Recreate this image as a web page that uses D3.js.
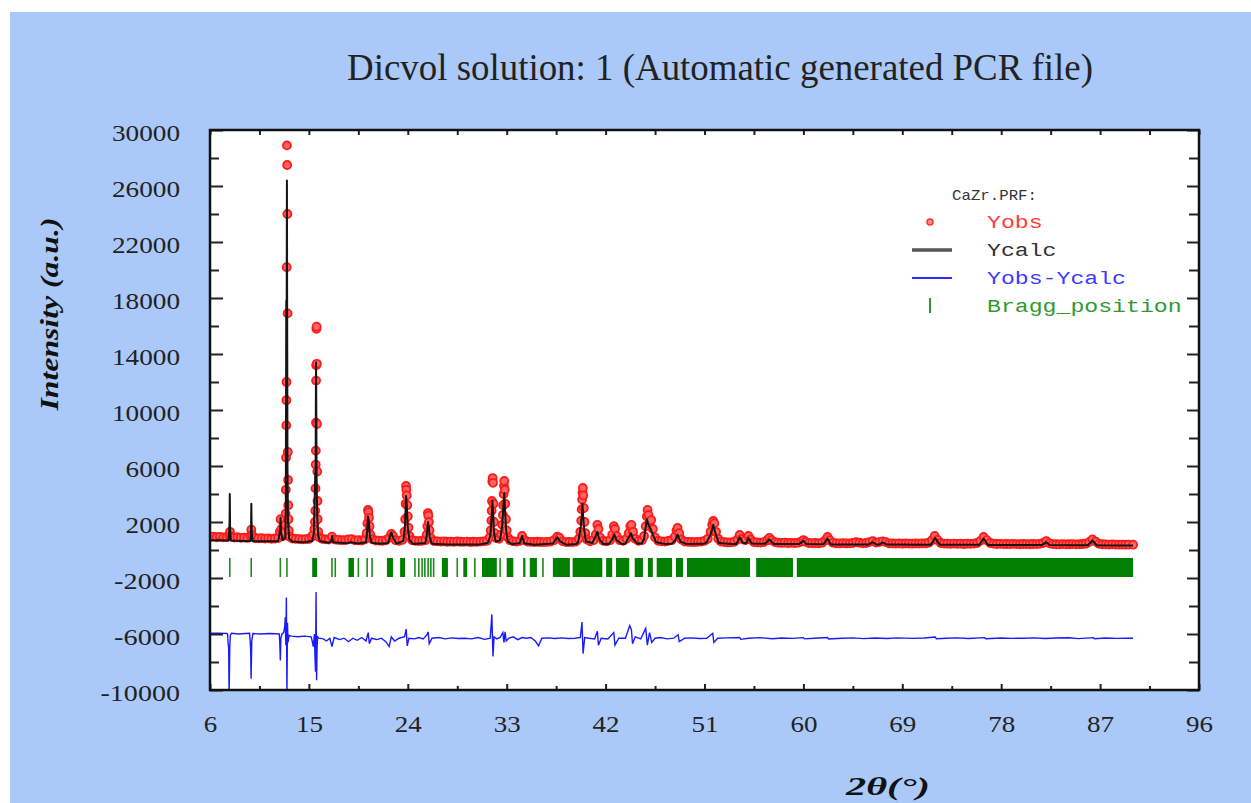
<!DOCTYPE html>
<html>
<head>
<meta charset="utf-8">
<title>Dicvol solution</title>
<script src="https://d3js.org/d3.v7.min.js"></script>
<style>
  html, body { margin: 0; padding: 0; background: #fff; }
  svg { display: block; }
  .tick-label { font-family: "Liberation Serif", "Times New Roman", serif; font-size: 24px; fill: #222; }
  .legend-text { font-family: "Liberation Mono", "Courier New", monospace; font-size: 19px; }
</style>
</head>
<body>
<svg id="chart" width="1251" height="803"></svg>
<script>
// ---- data ----
// observed points [2theta, intensity]
const yobs = [
  [6.0,930],[6.3,960],[6.6,910],[6.9,940],[7.2,900],[7.5,920],[7.75,1050],[7.82,1300],[7.9,980],[8.2,890],[8.5,910],[8.8,870],
  [9.1,890],[9.4,860],[9.68,1000],[9.76,1450],[9.84,1050],[10.1,850],[10.4,830],[10.7,845],[11.0,815],[11.3,830],[11.6,800],
  [11.9,820],[12.2,850],[12.35,1300],[12.42,2200],[12.5,1500],[12.65,1000],[12.8,1250],[12.86,1800],[12.88,2600],[12.9,4300],
  [12.92,6600],[12.94,8900],[12.95,10700],[12.96,12000],[12.98,20200],[13.0,28900],[13.02,27500],[13.04,24000],[13.06,16900],
  [13.08,7000],[13.1,5000],[13.12,3200],[13.14,2200],[13.17,1400],[13.25,950],[13.5,820],[13.8,800],[14.1,780],[14.4,760],
  [14.7,770],[15.0,790],[15.25,950],[15.4,1100],[15.5,1500],[15.55,2000],[15.58,2800],[15.6,4400],[15.62,6100],[15.63,7100],
  [15.64,9100],[15.65,12100],[15.66,13200],[15.68,15800],[15.7,15950],[15.72,13300],[15.74,9000],[15.76,5600],[15.78,3500],
  [15.8,2200],[15.85,1300],[15.95,900],[16.2,800],[16.5,760],[16.8,750],[17.1,950],[17.4,740],[17.7,720],[18.0,700],[18.3,710],
  [18.6,760],[18.9,780],[19.2,690],[19.5,700],[19.8,680],[20.1,760],[20.25,1200],[20.32,1900],[20.38,2860],[20.42,2700],
  [20.47,2300],[20.52,1700],[20.6,1100],[20.8,760],[21.1,680],[21.4,670],[21.7,660],[22.0,700],[22.3,880],[22.5,1150],
  [22.65,1000],[22.9,700],[23.2,660],[23.5,720],[23.7,1300],[23.76,2200],[23.8,3300],[23.84,4570],[23.87,4300],[23.9,3900],
  [23.95,3200],[24.0,2400],[24.06,1600],[24.15,1000],[24.4,700],[24.7,650],[25.0,640],[25.3,660],[25.6,700],[25.72,1100],
  [25.78,1700],[25.83,2640],[25.87,2450],[25.92,2000],[25.98,1400],[26.1,850],[26.4,640],[26.7,620],[27.0,600],[27.3,610],
  [27.6,590],[27.9,600],[28.2,580],[28.5,610],[28.8,590],[29.1,580],[29.4,600],[29.7,570],[30.0,590],[30.3,580],[30.6,600],
  [30.9,620],[31.2,650],[31.45,900],[31.55,1400],[31.6,2100],[31.63,2800],[31.66,3500],[31.69,4900],[31.72,5140],[31.76,4800],
  [31.8,3300],[31.85,2000],[31.92,1200],[32.05,850],[32.3,800],[32.5,1100],[32.6,1800],[32.65,2500],[32.68,3200],[32.72,4000],
  [32.75,4600],[32.78,4930],[32.82,4300],[32.87,3300],[32.93,2200],[33.0,1400],[33.1,900],[33.3,700],[33.6,620],[33.9,600],
  [34.2,650],[34.4,1000],[34.6,720],[34.9,600],[35.2,580],[35.5,570],[35.8,590],[36.1,570],[36.4,560],[36.7,580],[37.0,600],
  [37.3,700],[37.6,950],[37.8,880],[38.1,620],[38.4,560],[38.7,570],[39.0,560],[39.3,600],[39.55,800],[39.7,1300],[39.78,2100],
  [39.82,2900],[39.86,3600],[39.9,4100],[39.93,4430],[39.97,3900],[40.02,3000],[40.08,2000],[40.15,1200],[40.3,750],[40.6,620],
  [40.9,700],[41.1,1100],[41.25,1800],[41.35,1500],[41.5,900],[41.8,650],[42.1,620],[42.4,700],[42.6,1100],[42.75,1700],
  [42.85,1500],[43.0,1000],[43.3,700],[43.6,650],[43.9,800],[44.1,1200],[44.25,1700],[44.35,1790],[44.5,1300],[44.7,800],
  [45.0,650],[45.3,700],[45.5,1000],[45.65,1700],[45.75,2400],[45.82,2860],[45.9,2500],[46.0,1900],[46.15,2140],[46.3,1500],
  [46.5,900],[46.8,650],[47.1,620],[47.4,600],[47.7,650],[48.0,700],[48.3,950],[48.45,1400],[48.55,1570],[48.7,1200],[48.9,750],
  [49.2,600],[49.5,580],[49.8,570],[50.1,560],[50.4,580],[50.7,600],[51.0,650],[51.3,800],[51.55,1300],[51.7,1800],[51.8,2070],
  [51.9,1900],[52.05,1300],[52.25,800],[52.5,600],[52.8,560],[53.1,540],[53.4,550],[53.7,580],[54.0,750],[54.2,1070],[54.4,800],
  [54.7,700],[55.0,1000],[55.2,750],[55.5,560],[55.8,540],[56.1,530],[56.4,560],[56.7,700],[56.9,860],[57.1,700],[57.4,560],
  [57.7,520],[58.0,510],[58.3,520],[58.6,500],[58.9,510],[59.2,500],[59.5,520],[59.8,600],[60.0,710],[60.2,580],[60.5,500],
  [60.8,490],[61.1,500],[61.4,480],[61.7,520],[62.0,700],[62.2,930],[62.4,700],[62.7,520],[63.0,480],[63.3,470],[63.6,490],
  [63.9,470],[64.2,480],[64.5,500],[64.8,560],[65.1,520],[65.4,480],[65.7,500],[66.0,560],[66.3,640],[66.6,530],[66.9,560],
  [67.2,620],[67.5,560],[67.8,480],[68.1,470],[68.4,460],[68.7,470],[69.0,450],[69.3,470],[69.6,460],[69.9,450],[70.2,470],
  [70.5,460],[70.8,480],[71.1,470],[71.4,520],[71.7,700],[71.95,1000],[72.2,720],[72.5,500],[72.8,460],[73.1,450],[73.4,440],
  [73.7,460],[74.0,440],[74.3,450],[74.6,430],[74.9,450],[75.2,440],[75.5,460],[75.8,500],[76.1,650],[76.4,930],[76.7,700],
  [77.0,500],[77.3,450],[77.6,430],[77.9,440],[78.2,420],[78.5,430],[78.8,420],[79.1,440],[79.4,420],[79.7,410],[80.0,430],
  [80.3,420],[80.6,410],[80.9,430],[81.2,420],[81.5,440],[81.8,500],[82.1,640],[82.4,480],[82.7,420],[83.0,410],[83.3,400],
  [83.6,420],[83.9,400],[84.2,410],[84.5,420],[84.8,400],[85.1,410],[85.4,430],[85.7,450],[86.0,560],[86.3,760],[86.6,600],
  [86.9,440],[87.2,410],[87.5,400],[87.8,390],[88.1,400],[88.4,390],[88.7,380],[89.0,390],[89.3,380],[89.6,390],[90.0,380]
];

// calculated profile [2theta, intensity]
const ycalc = [
  [6.0,700],[7.0,690],[7.7,680],[7.78,2000],[7.8,4000],[7.83,1500],[7.9,670],[9.0,650],[9.7,640],[9.74,1800],[9.76,3300],
  [9.8,1200],[9.9,630],[11.0,620],[12.2,630],[12.38,1400],[12.42,2300],[12.46,1300],[12.6,700],[12.85,900],[12.9,3000],
  [12.94,17800],[12.96,12000],[12.98,17800],[13.0,26400],[13.02,17500],[13.05,6000],[13.1,2000],[13.2,800],[13.5,600],
  [14.5,560],[15.3,650],[15.45,1200],[15.55,4500],[15.58,5500],[15.6,4000],[15.62,8000],[15.65,13400],[15.68,9000],
  [15.7,5500],[15.75,2500],[15.85,1000],[16.0,650],[16.8,520],[17.05,650],[17.12,1000],[17.2,560],[18.5,480],[18.8,560],
  [19.5,470],[20.2,560],[20.3,1300],[20.38,2400],[20.45,2100],[20.55,1000],[20.7,520],[21.5,450],[22.2,500],[22.3,750],[22.5,1250],
  [22.7,800],[23.0,460],[23.6,650],[23.75,1800],[23.84,3860],[23.9,3300],[24.0,1600],[24.15,700],[24.5,430],[25.6,500],
  [25.75,1200],[25.84,2000],[25.9,1700],[26.0,900],[26.2,450],[27.5,400],[29.0,390],[30.5,400],[31.3,520],[31.5,1000],
  [31.62,2200],[31.7,3500],[31.76,2700],[31.85,1200],[32.0,600],[32.4,700],[32.6,1800],[32.72,3400],[32.78,4070],[32.85,2800],
  [32.95,1400],[33.1,600],[33.5,420],[34.2,500],[34.4,1000],[34.6,480],[35.5,380],[37.2,460],[37.6,900],[37.9,600],[38.4,380],
  [39.3,420],[39.5,550],[39.75,1700],[39.85,2600],[39.9,3300],[39.95,2500],[40.05,1500],[40.2,600],[40.8,500],[41.25,1300],
  [41.4,800],[41.8,420],[42.3,430],[42.6,750],[42.8,1100],[43.0,700],[43.5,420],[43.8,450],[44.1,900],[44.3,1200],[44.5,800],
  [44.9,450],[45.3,480],[45.5,800],[45.75,2200],[45.9,1800],[46.1,1500],[46.3,1100],[46.6,550],[47.5,420],[48.0,450],[48.3,650],
  [48.55,1100],[48.8,600],[49.4,420],[50.9,440],[51.2,550],[51.55,1100],[51.8,1800],[51.95,1300],[52.3,500],[53.5,420],
  [53.9,430],[54.2,900],[54.5,520],[54.8,480],[55.0,850],[55.3,460],[56.5,440],[56.9,750],[57.3,430],[59.6,420],[60.0,650],
  [60.3,420],[61.8,410],[62.2,800],[62.5,400],[65.9,390],[66.3,560],[66.6,400],[66.9,390],[67.2,540],[67.6,390],[71.6,380],
  [72.0,850],[72.4,380],[76.0,370],[76.4,820],[76.8,360],[81.7,350],[82.1,560],[82.4,350],[85.9,340],[86.3,680],[86.7,340],
  [90.0,320]
];

// difference curve Yobs-Ycalc, already offset as plotted [2theta, value]
const ydiff = [
  [6.0,-5950],[6.8,-5940],[7.55,-5960],[7.6,-6000],[7.65,-6700],[7.7,-7000],[7.74,-10400],[7.8,-6900],[7.85,-6100],
  [7.95,-5950],[8.6,-6000],[9.2,-5960],[9.6,-5950],[9.65,-6400],[9.7,-7100],[9.74,-9200],[9.8,-6500],[9.9,-5970],
  [10.6,-6000],[11.4,-5960],[12.0,-5980],[12.3,-6000],[12.35,-6600],[12.4,-7900],[12.45,-6300],[12.55,-6000],[12.7,-5900],
  [12.8,-5500],[12.85,-4800],[12.9,-6800],[12.95,-3400],[13.0,-10400],[13.05,-5200],[13.1,-6600],[13.2,-6100],[13.4,-6150],
  [14.0,-6200],[14.6,-6150],[15.2,-6200],[15.3,-6500],[15.4,-6900],[15.5,-6000],[15.55,-7500],[15.6,-8700],[15.65,-3000],
  [15.7,-9300],[15.75,-6800],[15.8,-6200],[15.9,-6300],[16.3,-6350],[16.6,-6500],[16.9,-6300],[17.1,-6900],[17.3,-6250],
  [17.8,-6400],[18.2,-6300],[18.6,-6550],[19.0,-6300],[19.4,-6450],[19.8,-6250],[20.2,-6500],[20.4,-5900],[20.5,-6700],
  [20.7,-6300],[21.2,-6400],[21.6,-6300],[22.0,-6550],[22.3,-6900],[22.5,-6200],[22.8,-6500],[23.2,-6300],[23.7,-6200],
  [23.85,-5650],[23.95,-6850],[24.1,-6300],[24.6,-6350],[25.0,-6250],[25.4,-6350],[25.75,-6050],[25.85,-5850],[25.95,-6700],
  [26.2,-6300],[26.8,-6250],[27.4,-6350],[28.0,-6280],[28.6,-6320],[29.2,-6300],[29.8,-6350],[30.4,-6250],[31.0,-6380],
  [31.5,-6300],[31.65,-4600],[31.75,-7600],[31.85,-6200],[32.1,-6350],[32.4,-6250],[32.65,-5900],[32.75,-6600],[32.85,-5850],
  [32.95,-6500],[33.2,-6300],[33.6,-6200],[34.0,-6400],[34.4,-6250],[34.8,-6300],[35.2,-6250],[35.6,-6500],[35.9,-6850],
  [36.2,-6300],[36.8,-6280],[37.4,-6320],[38.0,-6280],[38.6,-6320],[39.2,-6300],[39.7,-6250],[39.85,-5150],[39.95,-7400],
  [40.1,-6250],[40.5,-6300],[41.0,-6350],[41.25,-5800],[41.35,-6800],[41.6,-6300],[42.2,-6350],[42.75,-5900],[42.85,-6800],
  [43.2,-6300],[43.8,-6300],[44.2,-5400],[44.35,-5700],[44.45,-6700],[44.7,-6200],[45.2,-6350],[45.65,-5600],[45.8,-6800],
  [46.0,-5900],[46.2,-6600],[46.5,-6300],[47.0,-6250],[47.6,-6350],[48.2,-6300],[48.6,-6050],[48.7,-6550],[49.2,-6300],
  [49.8,-6280],[50.5,-6320],[51.2,-6300],[51.75,-5950],[51.85,-6600],[52.2,-6300],[53.0,-6280],[54.2,-6250],[54.3,-6380],
  [55.0,-6300],[56.0,-6260],[57.2,-6340],[58.0,-6290],[59.0,-6310],[60.0,-6260],[60.1,-6350],[61.0,-6300],[62.2,-6250],
  [62.3,-6360],[63.5,-6300],[64.5,-6280],[65.5,-6330],[66.5,-6290],[67.6,-6320],[68.5,-6280],[70.0,-6310],[71.0,-6290],
  [72.0,-6220],[72.1,-6340],[73.0,-6300],[74.0,-6280],[75.0,-6320],[76.5,-6260],[76.6,-6340],[78.0,-6290],[79.0,-6310],
  [80.0,-6300],[81.0,-6280],[82.0,-6320],[83.0,-6290],[84.2,-6270],[85.0,-6330],[86.4,-6260],[86.5,-6340],[87.5,-6290],
  [88.5,-6310],[89.5,-6300],[90.0,-6300]
];

// single Bragg reflections and ranges where they merge into a solid bar
const braggLines = [7.8, 9.75, 12.4, 13.0, 17.1, 17.4, 19.5, 20.3, 20.75, 24.65, 25.0, 25.3, 25.55, 25.85, 26.1, 26.35, 28.5, 30.1, 32.4, 36.3];
const braggBands = [[15.3,15.75],[18.6,19.1],[22.1,22.65],[23.3,23.75],[27.1,27.65],[29.05,29.4],[30.75,32.1],[33.0,33.6],
  [34.5,34.7],[35.1,35.75],[37.2,38.75],[39.0,41.7],[42.05,42.6],[42.95,44.15],[44.65,45.4],[45.85,46.3],[46.65,48.05],
  [48.4,49.05],[49.4,55.15],[55.7,59.05],[59.4,90.0]];

// tick values
const xTickLabels = [6, 15, 24, 33, 42, 51, 60, 69, 78, 87, 96];
const xMinorTicks = [10.5, 19.5, 28.5, 37.5, 46.5, 55.5, 64.5, 73.5, 82.5, 91.5];
const yTickLabels = [30000, 26000, 22000, 18000, 14000, 10000, 6000, 2000, -2000, -6000, -10000];
const yMinorTicks = [28000, 24000, 20000, 16000, 12000, 8000, 4000, 0, -4000, -8000];

const legendItems = ["Yobs", "Ycalc", "Yobs-Ycalc", "Bragg_position"];

// ---- layout ----
const svg = d3.select("svg#chart");
const width = +svg.attr("width");
const height = +svg.attr("height");
const plot = {left: 210, right: 1199, top: 130, bottom: 690};

svg.append("rect").attr("x", 0).attr("y", 0).attr("width", width).attr("height", height).attr("fill", "#fff");
svg.append("rect").attr("x", 10).attr("y", 12).attr("width", width - 10).attr("height", height - 12).attr("fill", "#aac9f8");

const x = d3.scaleLinear().domain([6, 96]).range([plot.left, plot.right]);
const y = d3.scaleLinear().domain([-10000, 30000]).range([plot.bottom, plot.top]);

svg.append("rect")
  .attr("x", plot.left).attr("y", plot.top)
  .attr("width", plot.right - plot.left).attr("height", plot.bottom - plot.top)
  .attr("fill", "#fff");

svg.append("clipPath").attr("id", "plot-clip")
  .append("rect")
  .attr("x", plot.left).attr("y", plot.top)
  .attr("width", plot.right - plot.left).attr("height", plot.bottom - plot.top);

const area = svg.append("g").attr("clip-path", "url(#plot-clip)");

// bragg positions
const braggTop = y(-570), braggBottom = y(-1930);
area.append("g").selectAll("line").data(braggLines).join("line")
  .attr("x1", d => x(d)).attr("x2", d => x(d))
  .attr("y1", braggTop).attr("y2", braggBottom)
  .attr("stroke", "#1c8c1c").attr("stroke-width", 1.6);
area.append("g").selectAll("rect").data(braggBands).join("rect")
  .attr("x", d => x(d[0])).attr("width", d => x(d[1]) - x(d[0]))
  .attr("y", braggTop).attr("height", braggBottom - braggTop)
  .attr("fill", "#007f00");

// difference curve
const line = d3.line().x(d => x(d[0])).y(d => y(d[1]));
area.append("path").datum(ydiff)
  .attr("fill", "none").attr("stroke", "#1a1aff").attr("stroke-width", 1.4)
  .attr("d", line);

// observed points
area.append("g").selectAll("circle").data(yobs).join("circle")
  .attr("cx", d => x(d[0])).attr("cy", d => y(d[1]))
  .attr("r", 4)
  .attr("fill", "#ff6464").attr("stroke", "#ff1a1a").attr("stroke-width", 1.8);

// calculated
area.append("path").datum(ycalc)
  .attr("fill", "none").attr("stroke", "#151515").attr("stroke-width", 2)
  .attr("stroke-linejoin", "round")
  .attr("d", line);

// ---- axes ----
const numWidth = (d, per) => String(d).replace("-", "").length * per + (d < 0 ? 11.5 : 0);

function styleTicks(g) {
  g.select(".domain").remove();
  g.selectAll(".tick line").attr("stroke", "#222").attr("stroke-width", 2);
}

// left, major with labels
svg.append("g").attr("transform", `translate(${plot.left},0)`)
  .call(d3.axisLeft(y).tickValues(yTickLabels).tickSizeInner(-13).tickSizeOuter(0).tickPadding(30).tickFormat(d => String(d)))
  .call(styleTicks)
  .call(g => g.selectAll("text").attr("class", "tick-label").attr("font-size", null).attr("font-family", null)
    .attr("dy", "0.42em")
    .attr("textLength", d => numWidth(d, 13.6)).attr("lengthAdjust", "spacingAndGlyphs"));
svg.append("g").attr("transform", `translate(${plot.left},0)`)
  .call(d3.axisLeft(y).tickValues(yMinorTicks).tickSizeInner(-9).tickSizeOuter(0).tickFormat(""))
  .call(styleTicks);

// right
svg.append("g").attr("transform", `translate(${plot.right},0)`)
  .call(d3.axisRight(y).tickValues(yTickLabels).tickSizeInner(-12).tickSizeOuter(0).tickFormat(""))
  .call(styleTicks);
svg.append("g").attr("transform", `translate(${plot.right},0)`)
  .call(d3.axisRight(y).tickValues(yMinorTicks).tickSizeInner(-10).tickSizeOuter(0).tickFormat(""))
  .call(styleTicks);

// bottom
svg.append("g").attr("transform", `translate(0,${plot.bottom})`)
  .call(d3.axisBottom(x).tickValues(xTickLabels).tickSizeInner(-6).tickSizeOuter(0).tickPadding(25).tickFormat(d => String(d)))
  .call(styleTicks)
  .call(g => g.selectAll("text").attr("class", "tick-label").attr("font-size", null).attr("font-family", null)
    .attr("textLength", d => numWidth(d, 13.5)).attr("lengthAdjust", "spacingAndGlyphs"));
svg.append("g").attr("transform", `translate(0,${plot.bottom})`)
  .call(d3.axisBottom(x).tickValues(xMinorTicks).tickSizeInner(-4).tickSizeOuter(0).tickFormat(""))
  .call(styleTicks);

// top
svg.append("g").attr("transform", `translate(0,${plot.top})`)
  .call(d3.axisTop(x).tickValues(xTickLabels.concat(xMinorTicks)).tickSizeInner(-5).tickSizeOuter(0).tickFormat(""))
  .call(styleTicks);

// frame
svg.append("rect")
  .attr("x", plot.left).attr("y", plot.top)
  .attr("width", plot.right - plot.left).attr("height", plot.bottom - plot.top)
  .attr("fill", "none").attr("stroke", "#111").attr("stroke-width", 2.5);

// ---- titles ----
svg.append("text")
  .attr("x", 347).attr("y", 80)
  .attr("font-family", "Liberation Serif, Times New Roman, serif").attr("font-size", 37).attr("fill", "#222")
  .attr("textLength", 746).attr("lengthAdjust", "spacingAndGlyphs")
  .text("Dicvol solution: 1 (Automatic generated PCR file)");

svg.append("text")
  .attr("transform", "translate(58,314) rotate(-90)")
  .attr("text-anchor", "middle")
  .attr("font-family", "Liberation Serif, Times New Roman, serif").attr("font-size", 25)
  .attr("font-weight", "bold").attr("font-style", "italic").attr("fill", "#111")
  .attr("textLength", 193).attr("lengthAdjust", "spacingAndGlyphs")
  .text("Intensity (a.u.)");

svg.append("text")
  .attr("x", 888).attr("y", 795)
  .attr("text-anchor", "middle")
  .attr("font-family", "Liberation Serif, Times New Roman, serif").attr("font-size", 26)
  .attr("font-weight", "bold").attr("font-style", "italic").attr("fill", "#111")
  .attr("textLength", 84).attr("lengthAdjust", "spacingAndGlyphs")
  .text("2θ(°)");

// ---- legend ----
const legend = svg.append("g");
legend.append("text")
  .attr("x", 952).attr("y", 200)
  .attr("font-family", "Liberation Mono, monospace").attr("font-size", 15).attr("fill", "#333")
  .attr("textLength", 85).attr("lengthAdjust", "spacingAndGlyphs")
  .text("CaZr.PRF:");

const legendColors = ["#ff3b3b", "#333", "#3b3bff", "#2e9a2e"];
const legendRowY = [222, 250, 278, 306];
legendItems.forEach((name, i) => {
  legend.append("text")
    .attr("class", "legend-text")
    .attr("x", 987).attr("y", legendRowY[i] + 6)
    .attr("fill", legendColors[i])
    .attr("textLength", name.length * 13.9).attr("lengthAdjust", "spacingAndGlyphs")
    .text(name);
});
legend.append("circle").attr("cx", 930).attr("cy", legendRowY[0]).attr("r", 3)
  .attr("fill", "#ff8c8c").attr("stroke", "#ff3030").attr("stroke-width", 1.5);
legend.append("line").attr("x1", 912).attr("x2", 952).attr("y1", legendRowY[1]).attr("y2", legendRowY[1])
  .attr("stroke", "#555").attr("stroke-width", 3.5);
legend.append("line").attr("x1", 912).attr("x2", 952).attr("y1", legendRowY[2]).attr("y2", legendRowY[2])
  .attr("stroke", "#2a2aff").attr("stroke-width", 2);
legend.append("line").attr("x1", 930).attr("x2", 930).attr("y1", legendRowY[3] - 8).attr("y2", legendRowY[3] + 7)
  .attr("stroke", "#2e9a2e").attr("stroke-width", 2);
</script>
</body>
</html>
